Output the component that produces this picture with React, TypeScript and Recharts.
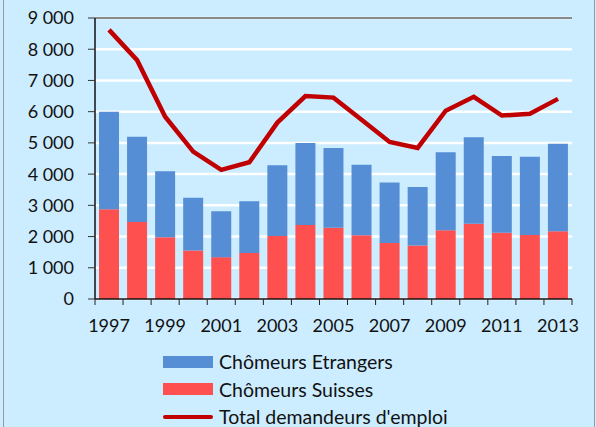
import React from 'react'
import {
  Bar,
  CartesianGrid,
  ComposedChart,
  Line,
  ReferenceLine,
  XAxis,
  YAxis,
} from 'recharts'

const years = [
  '1997', '1998', '1999', '2000', '2001', '2002', '2003', '2004', '2005',
  '2006', '2007', '2008', '2009', '2010', '2011', '2012', '2013',
]
const suisses = [2875, 2470, 1980, 1550, 1340, 1470, 2020, 2370, 2280, 2040, 1790, 1710, 2200, 2410, 2120, 2050, 2170]
const etrangers = [3125, 2730, 2110, 1690, 1470, 1660, 2260, 2630, 2560, 2260, 1940, 1880, 2500, 2770, 2460, 2510, 2800]
const totalDemandeurs = [8620, 7650, 5840, 4720, 4135, 4380, 5650, 6500, 6450, 5740, 5030, 4840, 6030, 6475, 5875, 5930, 6410]
const yTicks = [0, 1000, 2000, 3000, 4000, 5000, 6000, 7000, 8000, 9000]

const FONT = 'Lato, "Liberation Sans", sans-serif'
const BG = '#CCECFF'
const BLUE = '#558ED5'
const RED = '#FF5050'
const LINE_RED = '#C00000'

const data = years.map((y, i) => ({
  year: y,
  suisses: suisses[i],
  etrangers: etrangers[i],
  total: totalDemandeurs[i],
}))

const fmt = (v: number) => (v >= 1000 ? `${Math.floor(v / 1000)} ${String(v % 1000).padStart(3, '0')}` : String(v))

function YearTick(props: any) {
  const { x, y, payload, index } = props
  const half = payload?.offset ?? 14
  const last = index === years.length - 1
  return (
    <g>
      <line x1={x - half} y1={y} x2={x - half} y2={y + 6} stroke="#222" strokeWidth={1} />
      {last && <line x1={x + half} y1={y} x2={x + half} y2={y + 6} stroke="#222" strokeWidth={1} />}
      {index % 2 === 0 && (
        <text x={x} y={y + 33} textAnchor="middle" fontFamily={FONT} fontSize={18} fill="#111">
          {payload.value}
        </text>
      )}
    </g>
  )
}

function LegendBox() {
  const rows = [
    { label: 'Chômeurs Etrangers', kind: 'bar', color: BLUE },
    { label: 'Chômeurs Suisses', kind: 'bar', color: RED },
    { label: "Total demandeurs d'emploi", kind: 'line', color: LINE_RED },
  ]
  return (
    <div style={{ fontFamily: FONT, fontSize: 19.5, color: '#111' }}>
      {rows.map(r => (
        <div key={r.label} style={{ display: 'flex', alignItems: 'center', height: 27.5 }}>
          <svg width={56} height={14}>
            {r.kind === 'bar' ? (
              <rect x={0} y={1} width={50} height={12} fill={r.color} />
            ) : (
              <line x1={2} y1={7} x2={48} y2={7} stroke={r.color} strokeWidth={4} strokeLinecap="round" />
            )}
          </svg>
          <span>{r.label}</span>
        </div>
      ))}
    </div>
  )
}

export default function App() {
  return (
    <div style={{ position: 'absolute', left: 0, top: 0, width: 596, height: 427, background: BG, overflow: 'hidden' }}>
      <div style={{ position: 'absolute', left: 3, top: 0, width: 590, height: 427, borderLeft: '1.5px solid #9a9a9a', borderRight: '1px solid #9a9a9a' }} />
      <ComposedChart
        width={596}
        height={427}
        data={data}
        margin={{ top: 18, right: 24, bottom: 88, left: 0 }}
        barSize={20}
      >
        <CartesianGrid vertical={false} stroke="#ffffff" strokeWidth={2.5} />
        <XAxis
          dataKey="year"
          interval={0}
          tickLine={false}
          tickSize={0}
          tickMargin={0}
          height={40}
          axisLine={{ stroke: '#111', strokeWidth: 1.5 }}
          tick={<YearTick />}
        />
        <YAxis
          domain={[0, 9000]}
          ticks={yTicks}
          interval={0}
          width={95}
          tickSize={7}
          tickMargin={14}
          tickFormatter={fmt}
          axisLine={{ stroke: '#111', strokeWidth: 1.5 }}
          tickLine={{ stroke: '#333' }}
          tick={{ fontFamily: FONT, fontSize: 18, fill: '#111' }}
        />
        <YAxis
          yAxisId="frame"
          orientation="right"
          width={0}
          tick={false}
          tickLine={false}
          axisLine={{ stroke: '#8a8a8a', strokeWidth: 2 }}
        />
        <ReferenceLine y={9000} stroke="#8a8a8a" strokeWidth={2} />
        <Bar dataKey="suisses" stackId="a" fill={RED} isAnimationActive={false} />
        <Bar dataKey="etrangers" stackId="a" fill={BLUE} isAnimationActive={false} />
        <Line
          dataKey="total"
          type="linear"
          stroke={LINE_RED}
          strokeWidth={4.5}
          dot={false}
          isAnimationActive={false}
        />
      </ComposedChart>
      <div style={{ position: 'absolute', left: 163, top: 348, width: 340 }}>
        <LegendBox />
      </div>
    </div>
  )
}
